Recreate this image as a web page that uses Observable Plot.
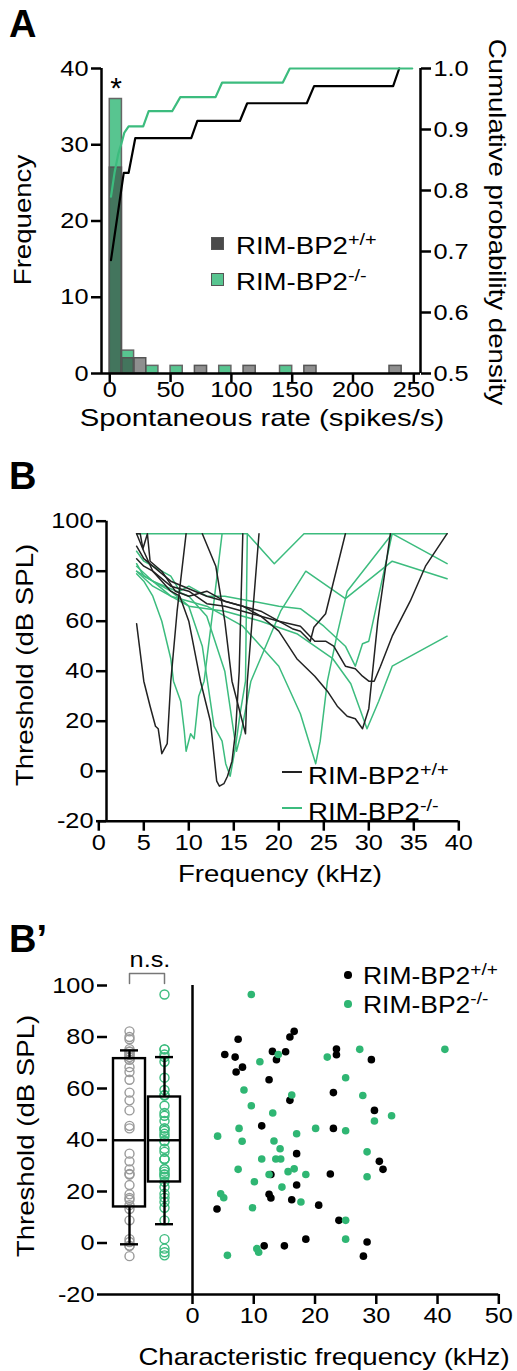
<!DOCTYPE html>
<html><head><meta charset="utf-8">
<script src="https://cdn.jsdelivr.net/npm/d3@7"></script>
<script src="https://cdn.jsdelivr.net/npm/@observablehq/plot@0.6"></script>
<style>
body{margin:0;background:#fff;}
#root{position:relative;width:517px;height:1371px;overflow:hidden;font-family:"Liberation Sans",Arial,sans-serif;color:#000;background:#fff;}
.lbl{position:absolute;white-space:nowrap;line-height:1;}
.lbl sup{font-size:0.72em;vertical-align:0.5em;line-height:0;}
</style></head><body><div id="root"></div><script>
// ---------- Panel A data ----------
const binStart = [0,10,20,30,40,50,60,70,80,90,100,110,120,130,140,150,160,170,180,190,200,210,220,230,240];
const wtCounts = [27,2,2,0,0,0,0,1,0,0,0,1,0,0,0,0,1,0,0,0,0,0,0,1,0];
const koCounts = [36,3,0,1,0,1,0,0,0,1,0,0,0,0,1,0,0,0,0,0,0,0,0,0,0];
const wtCumX = [1,11.5,15.5,21,67,72,107,113,162,168,233,238];
const wtCumY = [0.686,0.829,0.829,0.886,0.886,0.914,0.914,0.943,0.943,0.971,0.971,1.0];
const koCumX = [1,4,7,10,12,15.5,27.5,32,51.3,58,87,92.4,142.3,148,248.7];
const koCumY = [0.79,0.83,0.86,0.88,0.895,0.905,0.905,0.93,0.93,0.953,0.953,0.977,0.977,1.0,1.0];
const histTicksX = [0,50,100,150,200,250];
const freqTicks = [0,10,20,30,40];
const cumTicks = [0.5,0.6,0.7,0.8,0.9,1.0];

// ---------- Panel B data (tuning curves: [kHz, dB SPL]) ----------
const wtCurve1 = [[4.2,59],[5,36],[5.7,26],[6.3,18],[6.6,17],[7,7],[7.6,11],[8,36],[8.7,64],[9.7,95]];
const wtCurve2 = [[4.2,95],[5,88],[6,80],[7,76],[8,72],[9,70],[10,60],[11.3,36],[12.4,20],[13.1,-4],[13.4,-6],[13.9,-5],[14.3,-2],[14.8,4],[15.2,16],[15.6,40],[16,95]];
const wtCurve3 = [[11.5,95],[13,82],[14,60],[14.8,36],[16.3,15],[16.5,36],[17.8,95]];
const wtCurve4 = [[4.2,85],[5,82],[6,80],[8,74],[10,72],[12,67],[14,66],[16,64],[18,62],[20,60],[22.4,58],[24,52],[25.2,52],[26.1,50],[27.4,42],[28.5,41],[29.3,38],[30,36],[30.6,36],[31.3,42],[32.6,54],[34.6,68],[36.3,82],[38.7,95]];
const wtCurve5 = [[4.2,90],[5,85],[6,82],[8,76],[10,73],[12,70],[14,68],[16,66],[18,62],[20,56],[22,45],[24,38],[25.4,32],[26.5,26],[27.6,22],[28.5,21],[29.3,17],[30,25],[31,60],[32.4,95]];
const wtCurve6 = [[4.2,95],[4.6,95],[4.9,89],[5.4,95],[5.7,84],[7,80],[8.5,72],[10,70],[12,72],[13,70],[14,68],[16,66],[18,64],[20,60],[21.5,57],[22.4,56],[23.5,52],[23.9,57.6],[25.2,63],[27.4,95]];
const koCurve1 = [[4.2,79],[5,76],[6,70],[7,60],[8,45],[8.3,36],[9.1,28],[9.5,16],[9.7,8],[10.2,15],[10.6,13],[11.1,30],[11.7,36],[12.7,65],[13.7,95]];
const koCurve2 = [[4.2,83],[5,78],[6,76],[8,72],[10,66],[11.5,50],[12.8,18],[13.7,12],[14.1,3],[14.6,-2],[15.2,10],[15.7,23],[16.3,36],[16.5,95],[19.5,83],[22.8,95],[38.7,95]];
const koCurve3 = [[4.2,82],[6,76],[8,70],[10,68],[12,66],[14,62],[16,58],[18,50],[20,42],[22.4,23],[24.1,3],[24.6,12],[25.4,36],[26.5,55],[27.6,72],[32.6,95],[38.7,83]];
const koCurve4 = [[4.2,80],[6,74],[8,70],[10,66],[14,64],[18,60],[22,55],[26,45],[28,35],[29.8,17],[31.1,28],[32.6,42],[38.7,54]];
const koCurve5 = [[4.2,95],[16.5,95]];
const koCurve6 = [[4.2,88],[5,84],[6,82],[8,78],[9,72],[10,74],[12,70],[14,70],[17,68],[20,66],[22.4,65],[25,58],[27.4,50],[28.5,42],[29.3,51],[30,52],[32.6,95]];
const koCurve7 = [[4.2,80],[6,76],[8,73],[10,70],[12,62],[14,40],[15.3,8],[15.8,15],[16.9,36],[20.2,64],[23,80],[27.4,69],[32.6,84],[38.7,77]];

// ---------- Panel B' data ----------
const wtCF  = [7.45,5.27,6.96,8.16,7.12,13.05,13.7,15.2,15.9,16.6,12.5,23.5,23.5,29.2,15.9,23.0,29.7,11.3,23.0,17.0,30.5,31.1,12.8,22.5,17.0,12.5,12.8,16.2,20.6,4.0,23.9,18.5,28.5,11.7,15.0,27.9];
const wtThr = [79.1,73.2,72.2,68.3,66.4,74.4,71.2,74.3,80.0,82.2,63.4,75.3,73.1,71.2,55.4,58.4,51.5,45.5,44.5,34.7,31.7,28.6,26.6,26.8,22.5,18.9,17.5,16.8,14.7,13.2,8.8,1.5,0.4,-1.1,-1.1,-5.1];
const koCF  = [9.6,41.2,27.3,22.0,14.0,11.0,25.0,8.4,16.2,27.8,9.6,13.1,32.5,29.7,7.6,4.1,8.1,17.0,20.1,25.0,13.3,14.3,13.6,14.4,11.3,28.5,7.45,12.5,15.6,16.6,18.5,28.5,10.1,14.6,4.6,5.1,9.8,17.7,25.0,25.0,10.5,10.8,5.7];
const koThr = [96.5,75.2,75.2,72.2,73.2,70.4,64.2,59.4,57.5,57.3,53.3,50.5,49.4,47.4,44.5,41.5,39.5,42.4,44.5,43.6,39.6,36.6,32.6,32.6,32.6,35.4,28.6,26.6,27.7,28.8,26.6,25.7,23.8,21.7,19.1,17.6,13.7,15.9,8.8,1.5,-2.2,-3.6,-4.8];
const boxGroups = ["+/+","-/-"];
const boxQ1 = [14,23.7], boxMed = [39.9,39.9], boxQ3 = [71.6,56.7], whiskLo = [-0.5,7.3], whiskHi = [74.8,72.2];
const thrTicks = [-20,0,20,40,60,80,100];
const cfTicks = [0,10,20,30,40,50];

// ---------- styling ----------
const GREEN = "#2fb673", GREEN_LINE = "#3cbc7e", GREEN_BAR = "#58c590";
const FONT = "Liberation Sans, Arial, sans-serif";
const S = 1.15; // horizontal stretch of the reference typeface
const hyph = d => (d < 0 ? "-" + Math.abs(d) : String(d));
const root = document.getElementById("root");
function stretch(svg){ svg.querySelectorAll("text").forEach(t=>{ const L=t.getComputedTextLength(); if(L>0){ t.setAttribute("textLength", L*S); t.setAttribute("lengthAdjust","spacingAndGlyphs"); } }); }
function place(el, left, top){ el.style.position="absolute"; el.style.left=left+"px"; el.style.top=top+"px"; root.appendChild(el); stretch(el); return el; }
function txt(html, x, y, o={}){
  const d=document.createElement("div"); d.className="lbl"; d.innerHTML=html;
  d.style.left=x+"px"; d.style.top=y+"px"; d.style.fontSize=(o.size||23)+"px";
  if(o.weight) d.style.fontWeight=o.weight;
  if(o.color) d.style.color=o.color;
  const a=o.anchor||"start";
  const tx = a==="middle"?"-50%":a==="end"?"-100%":"0";
  d.style.transformOrigin = a==="middle"?"50% 50%":a==="end"?"100% 50%":"0 50%";
  const s = o.s!==undefined?o.s:S;
  d.style.transform=`translate(${tx},-50%)`+(o.rotate?` rotate(${o.rotate}deg)`:"")+` scaleX(${s})`;
  root.appendChild(d); return d;
}
const baseStyle = {fontFamily:FONT, fontSize:"22px", background:"transparent", overflow:"visible", color:"#000"};

// ---------- Panel A ----------
const bins = binStart.map((b,i)=>({x1:b, x2:b+10, wt:wtCounts[i], ko:koCounts[i]}));
const xDomA = [-6.8,255.5];
const plotA1 = Plot.plot({
  width:517, height:420, marginLeft:101, marginRight:97, marginTop:68, marginBottom:47,
  style:baseStyle,
  x:{domain:xDomA}, y:{domain:[0,40]},
  marks:[
    Plot.rectY(bins.filter(d=>d.ko>0), {x1:"x1", x2:"x2", y:"ko", fill:GREEN_BAR, stroke:"#666", strokeWidth:1.5}),
    Plot.rectY(bins.filter(d=>d.wt>0), {x1:"x1", x2:"x2", y:"wt", fill:"#333", fillOpacity:0.55, stroke:"#555", strokeWidth:1.5}),
    Plot.axisY({ticks:freqTicks, tickSize:10, tickPadding:3, strokeWidth:2.5, label:null}),
    Plot.axisX({ticks:histTicksX, tickSize:9, tickPadding:-1, strokeWidth:2.5, label:null}),
    Plot.ruleX([xDomA[0]], {strokeWidth:2.5}),
    Plot.ruleY([0], {strokeWidth:2.5})
  ]
});
place(plotA1,0,0);
const cum = [...wtCumX.map((x,i)=>({g:"wt",x,y:wtCumY[i]})), ...koCumX.map((x,i)=>({g:"ko",x,y:koCumY[i]}))];
const plotA2 = Plot.plot({
  width:517, height:420, marginLeft:101, marginRight:97, marginTop:68, marginBottom:47,
  style:baseStyle,
  x:{domain:xDomA, axis:null}, y:{domain:[0.5,1.0]},
  marks:[
    Plot.line(cum.filter(d=>d.g==="wt"), {x:"x", y:"y", stroke:"#000", strokeWidth:2.2}),
    Plot.line(cum.filter(d=>d.g==="ko"), {x:"x", y:"y", stroke:GREEN_LINE, strokeWidth:2.2}),
    Plot.axisY({anchor:"right", ticks:cumTicks, tickFormat:d3.format(".1f"), tickSize:10, tickPadding:3, strokeWidth:2.5, label:null}),
    Plot.ruleX([xDomA[1]], {strokeWidth:2.5})
  ]
});
place(plotA2,0,0);
txt("A", 9, 24, {size:38, weight:"bold", s:1});
txt("*", 116, 88, {size:30, anchor:"middle", s:1});
txt("Frequency", 23, 220, {anchor:"middle", rotate:-90, size:24});
txt("Cumulative probability density", 497, 222, {anchor:"middle", rotate:90, size:24});
txt("Spontaneous rate (spikes/s)", 262, 418, {anchor:"middle", size:24, s:1.22});
// legend A
const sq=(x,y,c)=>{const d=document.createElement("div");d.style.cssText=`position:absolute;left:${x}px;top:${y}px;width:13px;height:13px;background:${c};border:1px solid #555;box-sizing:border-box;`;root.appendChild(d);};
sq(211,237,"#4a4a4a"); sq(211,273,GREEN_BAR);
txt("RIM-BP2<sup>+/+</sup>", 236, 246, {size:24});
txt("RIM-BP2<sup>-/-</sup>", 236, 282, {size:24});

// ---------- Panel B ----------
const wtCurves=[wtCurve1,wtCurve2,wtCurve3,wtCurve4,wtCurve5,wtCurve6];
const koCurves=[koCurve1,koCurve2,koCurve3,koCurve4,koCurve5,koCurve6,koCurve7];
const tc=[];
wtCurves.forEach((c,i)=>c.forEach(([x,y])=>tc.push({id:"w"+i,g:"wt",x,y})));
koCurves.forEach((c,i)=>c.forEach(([x,y])=>tc.push({id:"k"+i,g:"ko",x,y})));
const plotB = Plot.plot({
  width:517, height:360, marginLeft:98.3, marginRight:58.7, marginTop:20.7, marginBottom:39.3,
  style:baseStyle,
  x:{domain:[0,40]}, y:{domain:[-20,100]},
  marks:[
    Plot.line(tc.filter(d=>d.g==="ko"), {x:"x", y:"y", z:"id", stroke:GREEN_LINE, strokeWidth:1.5}),
    Plot.line(tc.filter(d=>d.g==="wt"), {x:"x", y:"y", z:"id", stroke:"#222", strokeWidth:1.5}),
    Plot.axisY({ticks:thrTicks, tickFormat:hyph, tickSize:10, tickPadding:3, strokeWidth:2.5, dx:7.7, label:null}),
    Plot.axisX({ticks:d3.range(0,41,5), tickSize:10, tickPadding:3, strokeWidth:2.5, label:null}),
    Plot.ruleY([-20], {strokeWidth:2.5}),
    Plot.ruleX([0], {strokeWidth:2.5, dx:7.7})
  ]
});
place(plotB,0,500);
txt("B", 9, 476, {size:38, weight:"bold", s:1});
txt("Threshold (dB SPL)", 25, 665, {anchor:"middle", rotate:-90, size:24});
txt("Frequency (kHz)", 280, 874, {anchor:"middle", size:24});
const ln=(x,y,c)=>{const d=document.createElement("div");d.style.cssText=`position:absolute;left:${x}px;top:${y}px;width:20px;height:2px;background:${c};`;root.appendChild(d);};
ln(282,771,"#222"); ln(282,807,GREEN_LINE);
txt("RIM-BP2<sup>+/+</sup>", 308, 776, {size:24});
txt("RIM-BP2<sup>-/-</sup>", 308, 812, {size:24});

// ---------- Panel B' left (box) ----------
const boxData = boxGroups.map((g,i)=>({g,q1:boxQ1[i],med:boxMed[i],q3:boxQ3[i],lo:whiskLo[i],hi:whiskHi[i]}));
const ptsBox = [...wtThr.map(v=>({g:"+/+",v})), ...koThr.map(v=>({g:"-/-",v}))];
const bracket = [{g:"+/+",y:100.8},{g:"+/+",y:104.7},{g:"-/-",y:104.7},{g:"-/-",y:100.8}];
const plotC1 = Plot.plot({
  width:192, height:431, marginLeft:107, marginRight:0, marginTop:45, marginBottom:77,
  style:baseStyle,
  x:{type:"band", domain:boxGroups, paddingInner:0.086, paddingOuter:0.171, insetRight:6, axis:null},
  y:{domain:[-20,100]},
  marks:[
    Plot.dot(ptsBox, {x:"g", y:"v", r:4.5, stroke:d=>d.g==="+/+"?"#9a9a9a":GREEN_LINE, strokeWidth:1.4, fill:"none"}),
    Plot.barY(boxData, {x:"g", y1:"q1", y2:"q3", fill:"none", stroke:"#000", strokeWidth:2.4}),
    Plot.tickY(boxData, {x:"g", y:"med", stroke:"#000", strokeWidth:2.4}),
    Plot.ruleX(boxData, {x:"g", y1:"q3", y2:"hi", stroke:"#000", strokeWidth:2.4}),
    Plot.ruleX(boxData, {x:"g", y1:"lo", y2:"q1", stroke:"#000", strokeWidth:2.4}),
    Plot.tickY(boxData, {x:"g", y:"hi", stroke:"#000", strokeWidth:2.4, insetLeft:7, insetRight:7}),
    Plot.tickY(boxData, {x:"g", y:"lo", stroke:"#000", strokeWidth:2.4, insetLeft:7, insetRight:7}),
    Plot.line(bracket, {x:"g", y:"y", stroke:"#777", strokeWidth:1.5}),
    Plot.axisY({ticks:thrTicks, tickFormat:hyph, tickSize:10, tickPadding:3, strokeWidth:2.5, label:null}),
    Plot.ruleY([-20], {strokeWidth:2.5})
  ]
});
place(plotC1,0,940);
// ---------- Panel B' right (scatter) ----------
const scat = [...wtCF.map((x,i)=>({g:"wt",x,y:wtThr[i]})), ...koCF.map((x,i)=>({g:"ko",x,y:koThr[i]}))];
const plotC2 = Plot.plot({
  width:517, height:431, marginLeft:192, marginRight:18.7, marginTop:45, marginBottom:77,
  style:baseStyle,
  x:{domain:[0,50]}, y:{domain:[-20,100], axis:null},
  marks:[
    Plot.dot(scat.filter(d=>d.g==="wt"), {x:"x", y:"y", r:3.8, fill:"#000"}),
    Plot.dot(scat.filter(d=>d.g==="ko"), {x:"x", y:"y", r:3.8, fill:GREEN}),
    Plot.axisX({ticks:cfTicks, tickSize:10, tickPadding:3, strokeWidth:2.5, label:null}),
    Plot.ruleY([-20], {strokeWidth:2.5}),
    Plot.ruleX([0], {strokeWidth:2.5})
  ]
});
place(plotC2,0,940);
txt("B’", 9, 939, {size:38, weight:"bold", s:1});
txt("n.s.", 150, 960, {anchor:"middle", size:22});
txt("Threshold (dB SPL)", 26, 1136, {anchor:"middle", rotate:-90, size:24});
txt("Characteristic frequency (kHz)", 324, 1357, {anchor:"middle", size:24});
const dt=(x,y,c)=>{const d=document.createElement("div");d.style.cssText=`position:absolute;left:${x-3.8}px;top:${y-3.8}px;width:7.6px;height:7.6px;border-radius:50%;background:${c};`;root.appendChild(d);};
dt(348,975,"#000"); dt(348,1004,GREEN);
txt("RIM-BP2<sup>+/+</sup>", 363, 976, {size:23});
txt("RIM-BP2<sup>-/-</sup>", 363, 1005, {size:23});
</script></body></html>
